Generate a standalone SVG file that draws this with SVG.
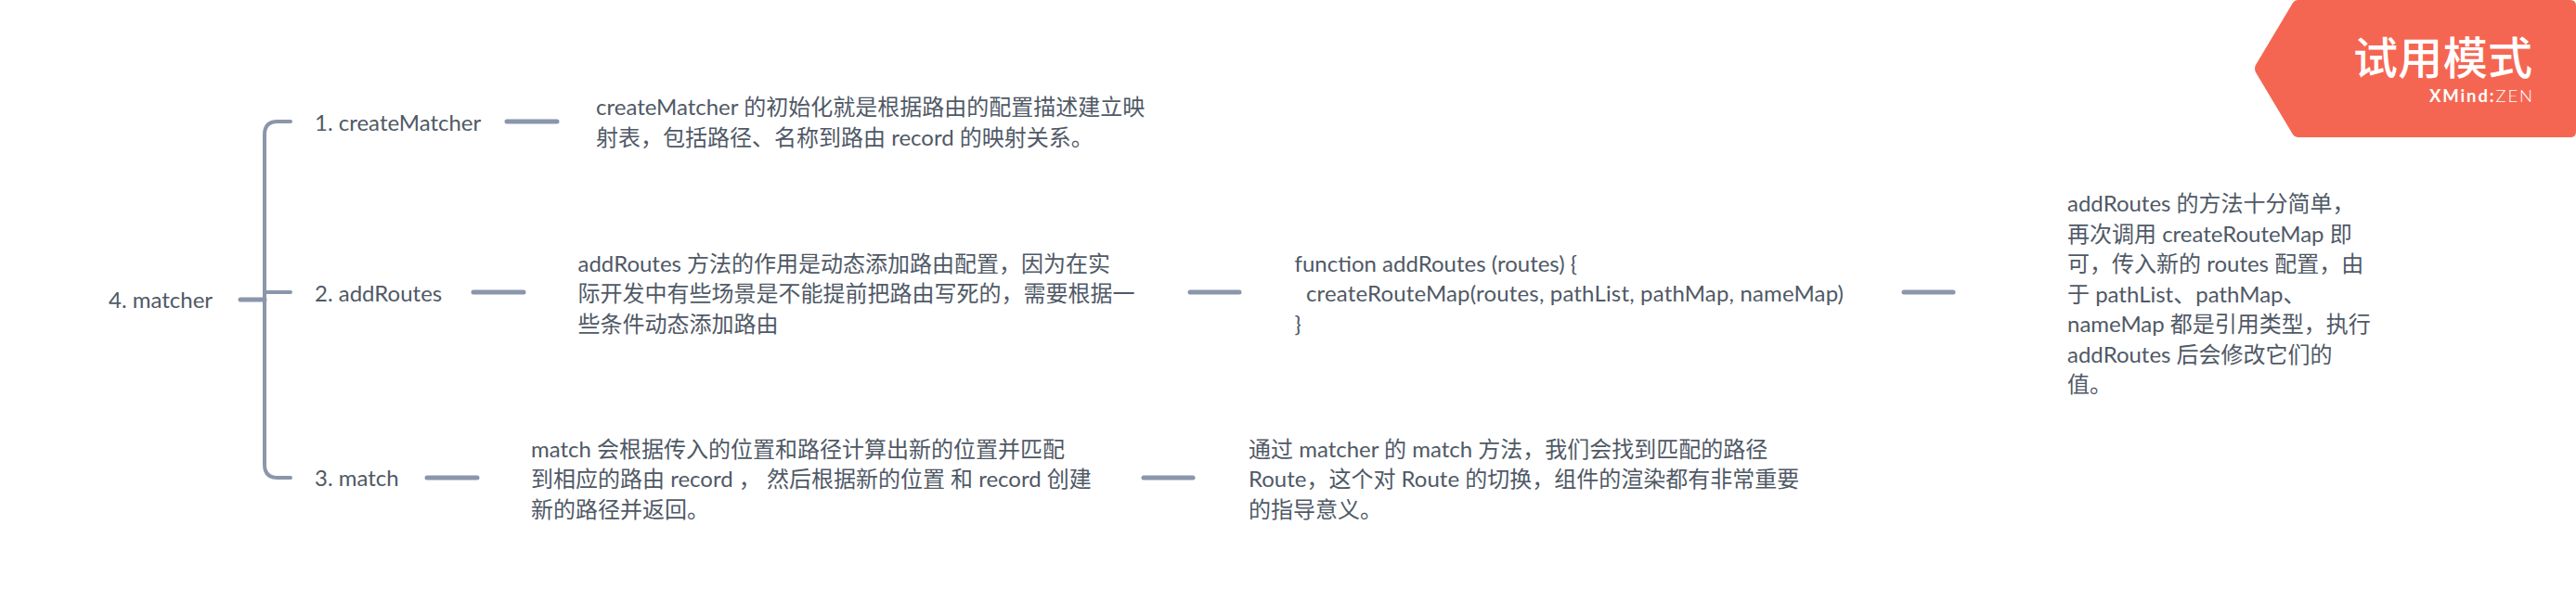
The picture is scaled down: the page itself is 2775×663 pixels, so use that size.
<svg xmlns="http://www.w3.org/2000/svg" width="2775" height="663" viewBox="0 0 2775 663">
<style>
text{font-family:"Lato","Noto Sans CJK SC",sans-serif;font-size:24px;fill:#505966}
.c{fill:none;stroke:#8a96ab;stroke-width:5;stroke-linecap:round}
.b{font-family:"Noto Sans CJK SC",sans-serif;font-size:48px;font-weight:500;fill:#fff}
.x{font-family:"Lato",sans-serif;font-size:18.500px;fill:#fff}
</style>
<rect width="2775" height="663" fill="#fff"/>
<g id="connectors">
<path class="c" d="M259 323H285"/>
<path class="c" style="stroke-width:4" d="M313 131H299Q285 131 285 145V501Q285 515 299 515H313M285 315H313"/>
<path class="c" d="M546 131H600"/>
<path class="c" d="M510 315H564"/>
<path class="c" d="M460 515H514"/>
<path class="c" d="M1232 515H1285"/>
<path class="c" d="M1282 315H1335"/>
<path class="c" d="M2051 315H2104"/>
</g>
<g id="root"><text x="117" y="332">4. matcher</text></g>
<g id="n1"><text x="339" y="141">1. createMatcher</text></g>
<g id="n2"><text x="339" y="325">2. addRoutes</text></g>
<g id="n3"><text x="339" y="524">3. match</text></g>
<g id="n1a"><text x="642" y="124">createMatcher 的初始化就是根据路由的配置描述建立映</text><text x="642" y="157">射表，包括路径、名称到路由 record 的映射关系。</text></g>
<g id="n2a"><text x="622.500" y="292.500">addRoutes 方法的作用是动态添加路由配置，因为在实</text><text x="622.500" y="325">际开发中有些场景是不能提前把路由写死的，需要根据一</text><text x="622.500" y="357.500">些条件动态添加路由</text></g>
<g id="n2b"><text x="1394.500" y="292.500">function addRoutes (routes) {</text><text x="1407" y="325" textLength="579">createRouteMap(routes, pathList, pathMap, nameMap)</text><text x="1394.500" y="357.500">}</text></g>
<g id="n2c"><text x="2227" y="228">addRoutes 的方法十分简单，</text><text x="2227" y="260.500">再次调用 createRouteMap 即</text><text x="2227" y="293">可，传入新的 routes 配置，由</text><text x="2227" y="325.500">于 pathList、pathMap、</text><text x="2227" y="358">nameMap 都是引用类型，执行</text><text x="2227" y="390.500">addRoutes 后会修改它们的</text><text x="2227" y="423">值。</text></g>
<g id="n3a"><text x="572" y="492.500">match 会根据传入的位置和路径计算出新的位置并匹配</text><text x="572" y="525">到相应的路由 record ， 然后根据新的位置 和 record 创建</text><text x="572" y="557.500">新的路径并返回。</text></g>
<g id="n3b"><text x="1345" y="492.500">通过 matcher 的 match 方法，我们会找到匹配的路径</text><text x="1345" y="525">Route，这个对 Route 的切换，组件的渲染都有非常重要</text><text x="1345" y="557.500">的指导意义。</text></g>
<g id="badge">
<path fill="#f56652" d="M2475 0H2769Q2775 0 2775 6V142Q2775 148 2769 148H2475Q2472 148 2470 145L2430 78Q2428 74 2430 70L2470 3Q2472 0 2475 0Z"/>
<text class="b" x="2535" y="80" textLength="193">试用模式</text>
<text class="x" x="2617" y="110" textLength="111"><tspan font-weight="700">XMind:</tspan><tspan font-weight="300">ZEN</tspan></text>
</g>
</svg>
